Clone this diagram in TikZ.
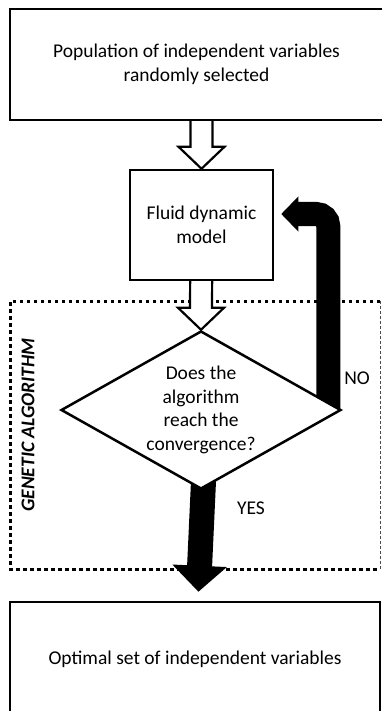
\documentclass[tikz,border=0pt]{standalone}
\usepackage{fontspec}
\setmainfont{Carlito}
\usetikzlibrary{arrows.meta,shapes.geometric,calc,backgrounds}

\tikzset{
  box/.style={draw, line width=2.5pt, fill=white, align=center, inner sep=0pt,
    font=\fontsize{19.5}{23.8}\selectfont},
  decision/.style={draw, diamond, aspect=1.77, line width=2.5pt, fill=white,
    align=center, inner sep=0pt, minimum width=280pt, minimum height=158pt,
    font=\fontsize{19.5}{23.8}\selectfont},
  hollow/.style={draw, line width=2.2pt, fill=white, line join=miter},
  blackarrow/.style={draw=black, line width=24pt},
  dotline/.style={line width=3pt, dash pattern=on 3.5pt off 3.5pt},
  thindash/.style={line width=0.8pt, black!70, dash pattern=on 3pt off 2pt},
  lbl/.style={font=\fontsize{19.5}{23.8}\selectfont}
}

% hollow block arrow: shaft from #1, tip at #2
\newcommand{\hollowarrow}[2]{%
  \draw[hollow] ($(#1)+(-11pt,0)$) -- ($(#2)+(-11pt,22pt)$) -- ($(#2)+(-23pt,22pt)$)
    -- (#2) -- ($(#2)+(23pt,22pt)$) -- ($(#2)+(11pt,22pt)$) -- ($(#1)+(11pt,0)$);}

\begin{document}
\begin{tikzpicture}[x=1pt, y=-1pt]
    \useasboundingbox (0,0) rectangle (381,711);

    \node[box, minimum width=373pt, minimum height=111pt] (pop) at (196.5,64.5)
      {Population of independent variables\\randomly selected};
    \node[box, minimum width=143pt, minimum height=110pt] (fluid) at (201.5,225)
      {Fluid dynamic\\model};
    \node[decision] (dec) at (201,410) {Does the\\algorithm\\reach the\\convergence?};
    \node[box, minimum width=370pt, minimum height=115pt] (opt) at (195,659.5)
      {Optimal set of independent variables};

    \node[lbl] (no) at (357,378) {NO};
    \node[lbl] (yes) at (251,508) {YES};
    \node[rotate=90, font=\fontsize{19.5}{23.8}\selectfont\bfseries\itshape] (ga) at (28,425)
      {GENETIC ALGORITHM};

    \begin{scope}[on background layer]
    % genetic algorithm frame
    \draw[dotline] (380,301) -- (10,301) -- (10,569) -- (380,569);
    \draw[thindash] (380,301) -- (380,569);

    \hollowarrow{fluid.north |- pop.center}{fluid.north}
    \hollowarrow{fluid.center}{dec.north}

    % NO
    \draw[blackarrow, rounded corners=12pt, shorten >=7pt, -{Triangle[length=17pt,width=34pt]}]
      ($(dec.east)+(-14pt,0)$) |- ($(fluid.east)+(0,11pt)$);
    % YES
    \draw[blackarrow, line width=25pt, shorten >=9pt, -{Triangle[length=26pt,width=53pt]}]
      ($(dec.south)+(3pt,20pt)$) -- ($(opt.north)+(3pt,0)$);
    \end{scope}
\end{tikzpicture}
\end{document}
